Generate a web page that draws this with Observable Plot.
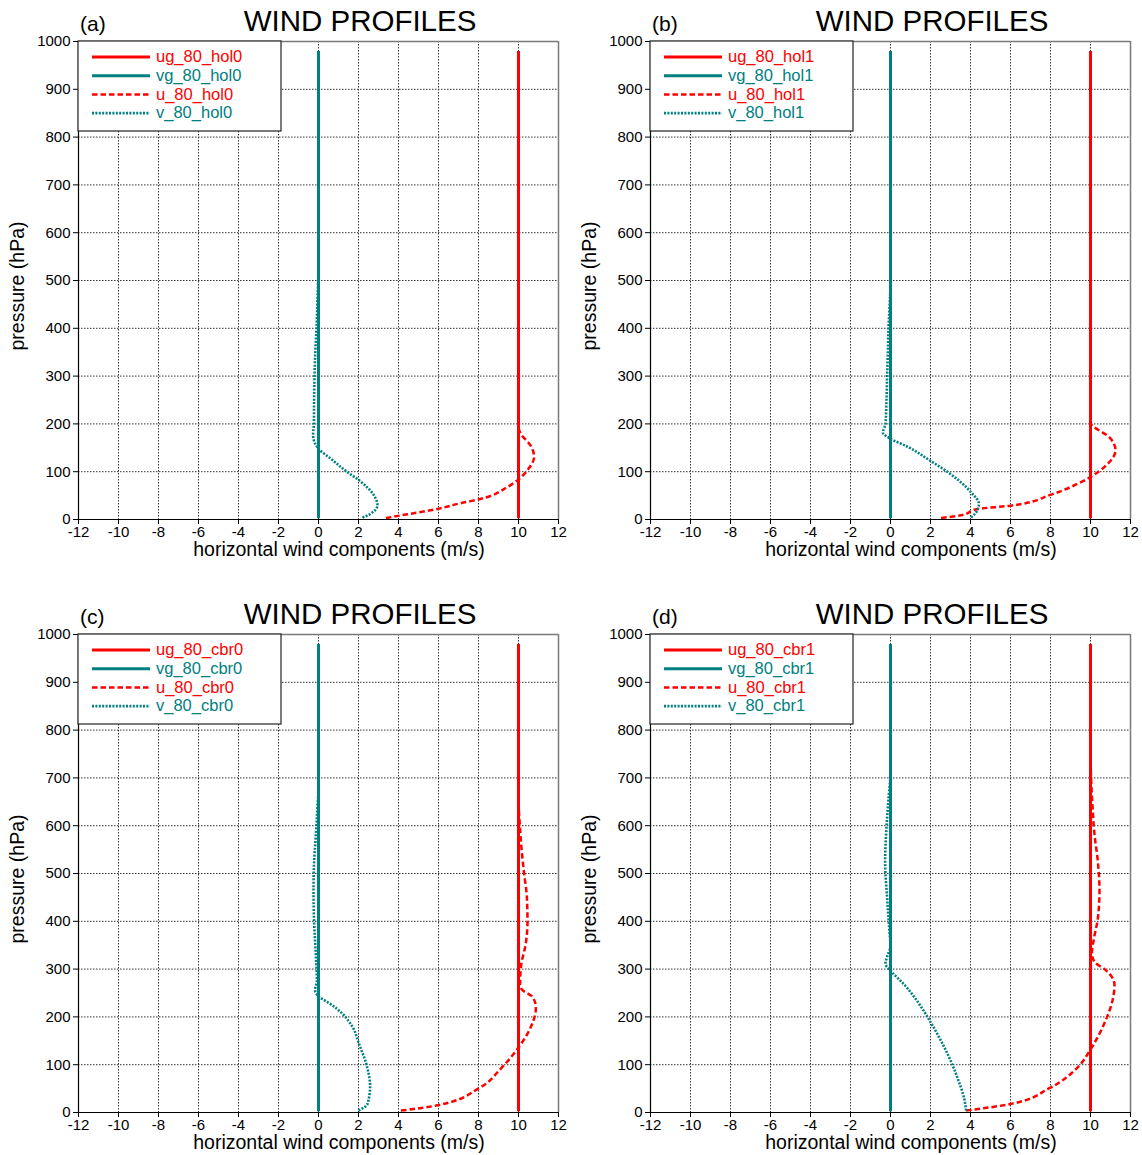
<!DOCTYPE html>
<html>
<head>
<meta charset="utf-8">
<script src="https://cdn.jsdelivr.net/npm/d3@7"></script>
<script src="https://cdn.jsdelivr.net/npm/@observablehq/plot@0.6"></script>
<style>
  html, body { margin: 0; padding: 0; background: white; }
  #fig { position: relative; width: 1142px; height: 1155px; overflow: hidden; background: white; }
  .panel { position: absolute; width: 571px; height: 562px; }
  .panel svg { position: absolute; left: 0; top: 0; }
</style>
</head>
<body>
<div id="fig"></div>
<script>
// ---------------- data ----------------
const panelLetters = ["(a)", "(b)", "(c)", "(d)"];
const caseNames = ["hol0", "hol1", "cbr0", "cbr1"];
const titleText = "WIND PROFILES";
const xLabel = "horizontal wind components (m/s)";
const yLabel = "pressure (hPa)";
const xTicks = [-12, -10, -8, -6, -4, -2, 0, 2, 4, 6, 8, 10, 12];
const yTicks = [0, 100, 200, 300, 400, 500, 600, 700, 800, 900, 1000];
const geoLevels = [2.5, 980];
const ugValue = 10;
const vgValue = 0;

// [pressure, value]
const u_hol0 = [[3,3.37],[11,4.45],[22,5.95],[34,7.1],[43,8.1],[68,9.45],[84,10.0],[106,10.5],[131,10.78],[155,10.6],[180,10.1],[195,10.0],[980,10.0]];
const v_hol0 = [[4,2.2],[12,2.6],[30,2.95],[50,2.78],[82,2.03],[99,1.45],[127,0.62],[148,0.0],[162,-0.2],[177,-0.27],[200,-0.23],[250,-0.22],[300,-0.2],[350,-0.16],[400,-0.1],[450,-0.06],[500,-0.02],[550,0.0],[980,0.0]];
const u_hol1 = [[3,2.53],[9,3.53],[22,4.37],[29,6.03],[52,8.03],[75,9.37],[89,10.0],[110,10.7],[145,11.25],[172,10.95],[193,10.2],[201,10.0],[980,10.0]];
const v_hol1 = [[4,4.03],[19,4.34],[33,4.42],[57,4.03],[99,2.87],[124,1.95],[152,0.87],[169,0.0],[182,-0.38],[200,-0.25],[250,-0.2],[300,-0.17],[350,-0.13],[400,-0.1],[450,-0.04],[500,0.0],[980,0.0]];
const u_cbr0 = [[4,4.12],[15,5.95],[51,8.03],[92,9.12],[136,10.0],[165,10.45],[220,10.87],[242,10.7],[256,10.2],[267,10.08],[304,10.12],[355,10.37],[399,10.45],[450,10.42],[500,10.28],[553,10.15],[612,10.05],[650,10.0],[980,10.0]];
const v_cbr0 = [[4,2.0],[18,2.45],[55,2.58],[97,2.42],[143,2.03],[179,1.7],[216,0.95],[231,0.45],[242,0.03],[256,-0.17],[275,-0.08],[319,-0.12],[399,-0.22],[465,-0.25],[524,-0.22],[582,-0.13],[641,-0.05],[680,0.0],[980,0.0]];
const u_cbr1 = [[4,3.78],[18,6.03],[51,7.95],[95,9.37],[132,10.0],[187,10.7],[238,11.12],[267,11.2],[286,11.03],[300,10.7],[315,10.2],[333,10.07],[363,10.17],[407,10.37],[465,10.45],[524,10.37],[582,10.2],[641,10.1],[700,10.03],[740,10.0],[980,10.0]];
const v_cbr1 = [[4,3.78],[26,3.7],[70,3.37],[121,2.87],[187,2.03],[231,1.37],[267,0.7],[297,0.0],[311,-0.25],[326,-0.17],[348,0.0],[377,-0.05],[450,-0.17],[524,-0.27],[582,-0.22],[656,-0.1],[714,0.0],[980,0.0]];

const uProfiles = [u_hol0, u_hol1, u_cbr0, u_cbr1];
const vProfiles = [v_hol0, v_hol1, v_cbr0, v_cbr1];

// ---------------- styles ----------------
const RED = "#ff0000";
const TEAL = "#008080";
const FONT = "'Liberation Sans', Arial, Helvetica, sans-serif";
const styles = {
  ug: {stroke: RED, strokeWidth: 3, strokeDasharray: null},
  vg: {stroke: TEAL, strokeWidth: 3, strokeDasharray: null},
  u:  {stroke: RED, strokeWidth: 2.5, strokeDasharray: "5.5,3"},
  v:  {stroke: TEAL, strokeWidth: 2.6, strokeDasharray: "2,1.4"}
};

const W = 571, H = 562;
const M = {left: 78, right: 13, top: 41, bottom: 43};
const fig = document.getElementById("fig");

function toObjs(arr) { return arr.map(([p, x]) => ({p, x})); }

function makePanel(i) {
  const name = caseNames[i];
  const ug = geoLevels.map(p => ({p, x: ugValue}));
  const vg = geoLevels.map(p => ({p, x: vgValue}));
  const u = toObjs(uProfiles[i]);
  const v = toObjs(vProfiles[i]);
  const lineOpts = (s) => {
    const o = {x: "x", y: "p", stroke: s.stroke, strokeWidth: s.strokeWidth, curve: "monotone-y", strokeLinecap: "butt"};
    if (s.strokeDasharray) o.strokeDasharray = s.strokeDasharray;
    return o;
  };
  const gridStyle = {stroke: "#333", strokeOpacity: 1, strokeWidth: 1, strokeDasharray: "1.5,1.5"};
  const chart = Plot.plot({
    width: W, height: H,
    marginLeft: M.left, marginRight: M.right, marginTop: M.top, marginBottom: M.bottom,
    x: {domain: [-12, 12]},
    y: {domain: [0, 1000]},
    style: {fontFamily: FONT, fontSize: "15px", color: "black", background: "white", overflow: "visible"},
    marks: [
      Plot.gridX(xTicks.slice(1, -1), gridStyle),
      Plot.gridY(yTicks.slice(1, -1), gridStyle),
      Plot.ruleY([1000], {stroke: "#7a7a7a", strokeWidth: 1.5}),
      Plot.ruleX([12], {stroke: "#7a7a7a", strokeWidth: 1.5}),
      Plot.ruleY([0], {stroke: "black", strokeWidth: 1.2}),
      Plot.ruleX([-12], {stroke: "black", strokeWidth: 1.2}),
      Plot.axisX({ticks: xTicks, tickFormat: d => String(d), tickSize: 5, tickPadding: 2, label: null, fontSize: 15}),
      Plot.axisY({ticks: yTicks, tickFormat: d => String(d), tickSize: 5, tickPadding: 3, label: null, fontSize: 15}),
      Plot.line(ug, lineOpts(styles.ug)),
      Plot.line(vg, lineOpts(styles.vg)),
      Plot.line(u, lineOpts(styles.u)),
      Plot.line(v, lineOpts(styles.v))
    ]
  });

  const div = document.createElement("div");
  div.className = "panel";
  div.style.left = ((i % 2) * 572) + "px";
  div.style.top = (Math.floor(i / 2) * 593) + "px";
  div.appendChild(chart);

  // overlay: titles, axis labels, legend
  const svg = d3.create("svg").attr("width", W).attr("height", H)
    .style("font-family", FONT).style("pointer-events", "none");
  svg.append("text").attr("x", 80).attr("y", 30.5).attr("font-size", 21).attr("fill", "black").text(panelLetters[i]);
  svg.append("text").attr("x", 360).attr("y", 30.5).attr("text-anchor", "middle").attr("font-size", 29.5).attr("fill", "black").text(titleText);
  svg.append("text").attr("x", 339).attr("y", 556).attr("text-anchor", "middle").attr("font-size", 19.5).attr("fill", "black").text(xLabel);
  svg.append("text").attr("transform", "translate(24,286) rotate(-90)").attr("text-anchor", "middle").attr("font-size", 19.5).attr("fill", "black").text(yLabel);

  // legend
  const lg = svg.append("g");
  lg.append("rect").attr("x", 78).attr("y", 41).attr("width", 203).attr("height", 90)
    .attr("fill", "white").attr("stroke", "#222").attr("stroke-width", 1.2);
  const entries = [
    {label: "ug_80_" + name, s: styles.ug},
    {label: "vg_80_" + name, s: styles.vg},
    {label: "u_80_" + name, s: styles.u},
    {label: "v_80_" + name, s: styles.v}
  ];
  entries.forEach((e, k) => {
    const y = 57 + k * 18.7;
    const ln = lg.append("line").attr("x1", 92).attr("x2", 150).attr("y1", y).attr("y2", y)
      .attr("stroke", e.s.stroke).attr("stroke-width", e.s.strokeWidth);
    if (e.s.strokeDasharray) ln.attr("stroke-dasharray", e.s.strokeDasharray);
    lg.append("text").attr("x", 156).attr("y", y + 5.2).attr("font-size", 16.5)
      .attr("fill", e.s.stroke).text(e.label);
  });
  div.appendChild(svg.node());
  fig.appendChild(div);
}

for (let i = 0; i < 4; i++) makePanel(i);
</script>
</body>
</html>
